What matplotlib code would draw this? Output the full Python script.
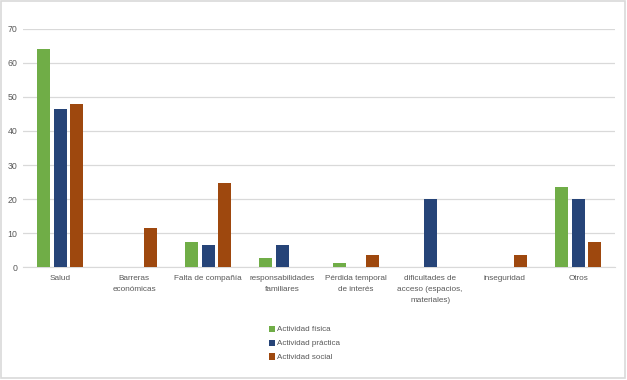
import matplotlib.pyplot as plt
import numpy as np
from matplotlib.patches import Rectangle

categorias = ['Salud', 'Barreras\neconómicas', 'Falta de compañía', 'responsabilidades\nfamiliares',
              'Pérdida temporal\nde interés', 'dificultades de\nacceso (espacios,\nmateriales)',
              'inseguridad', 'Otros']
fisica = [64, 0, 7.4, 2.7, 1.3, 0, 0, 23.6]
practica = [46.5, 0, 6.5, 6.5, 0, 20, 0, 20]
social = [48, 11.6, 24.8, 0, 3.6, 0, 3.6, 7.4]

series = [('Actividad física', fisica, '#70AD47'),
          ('Actividad práctica', practica, '#264478'),
          ('Actividad social', social, '#9E480E')]

plt.rcParams['font.family'] = ['Liberation Sans', 'DejaVu Sans']

fig = plt.figure(figsize=(6.27, 3.8), dpi=100)
ax = fig.add_axes([0.037, 0.297, 0.944, 0.627])

x = np.arange(len(categorias))
w = 0.176
step = 0.222
for i, (nombre, vals, color) in enumerate(series):
    ax.bar(x + (i - 1) * step, vals, w, color=color, label=nombre, zorder=3)

ax.set_xlim(-0.5, len(categorias) - 0.5)
ax.set_ylim(0, 70)
ax.set_yticks(range(0, 71, 10))
ax.set_xticks(x)
ax.set_xticklabels(categorias, fontsize=5.9, color='#595959', linespacing=1.75)
ax.tick_params(axis='y', labelsize=6.3, labelcolor='#595959', length=0, pad=4)
ax.tick_params(axis='x', length=0, pad=6)
ax.grid(axis='y', color='#D9D9D9', linewidth=0.9, zorder=0)
for s in ['top', 'right', 'left']:
    ax.spines[s].set_visible(False)
ax.spines['bottom'].set_color('#D9D9D9')

ax.legend(loc='upper center', bbox_to_anchor=(0.475, -0.215), ncol=1, frameon=False,
          fontsize=5.8, labelcolor='#595959', handlelength=0.8, handleheight=0.8,
          handletextpad=0.25, labelspacing=0.75)

fig.patches.append(Rectangle((0.001, 0.004), 0.996, 0.994, transform=fig.transFigure,
                             fill=False, edgecolor='#D9D9D9', linewidth=1.2))

fig.savefig('out.png', dpi=100)
